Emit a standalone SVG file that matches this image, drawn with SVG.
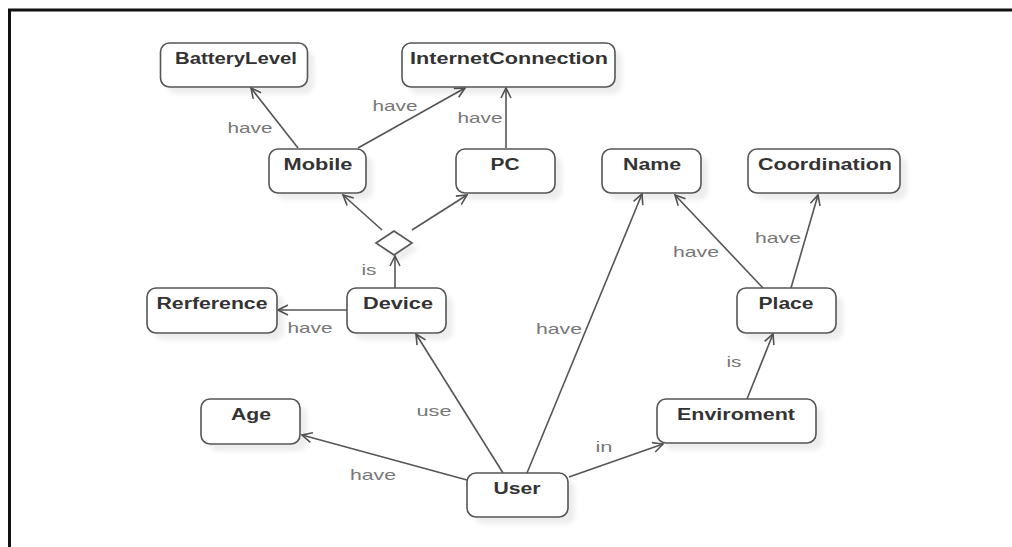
<svg xmlns="http://www.w3.org/2000/svg" width="1012" height="547" viewBox="0 0 1012 547">
  <style>
    .box { fill: #ffffff; stroke: #555555; stroke-width: 1.6; }
    .shadow { fill: #000000; opacity: 0.07; }
    .name { font-family: "Liberation Sans", Arial, sans-serif; font-weight: bold; font-size: 16px; fill: #333333; text-anchor: middle; }
    .edge { fill: none; stroke: #555555; stroke-width: 1.6; }
    .lbl { font-family: "Liberation Sans", Arial, sans-serif; font-size: 15px; fill: #777777; text-anchor: middle; }
  </style>
  <defs>
    <marker id="open" viewBox="0 0 12 12" refX="11" refY="6" markerWidth="12" markerHeight="12" markerUnits="userSpaceOnUse" orient="auto">
      <path d="M1,1 L11,6 L1,11" fill="none" stroke="#555555" stroke-width="1.6"/>
    </marker>
    <filter id="soft" x="-20%" y="-20%" width="140%" height="140%">
      <feGaussianBlur stdDeviation="2.5"/>
    </filter>
  </defs>

  <rect width="1012" height="547" fill="#ffffff"/>
  <!-- frame -->
  <path d="M9.5,547 L9.5,10 L1012,10" fill="none" stroke="#111111" stroke-width="3"/>

  <!-- connectors -->
  <g id="connectors">
    <line class="edge" x1="298" y1="148" x2="251" y2="88" marker-end="url(#open)"/>
    <line class="edge" x1="358" y1="148" x2="465" y2="88" marker-end="url(#open)"/>
    <line class="edge" x1="506" y1="148" x2="506" y2="88" marker-end="url(#open)"/>
    <line class="edge" x1="382" y1="230" x2="343" y2="195" marker-end="url(#open)"/>
    <line class="edge" x1="412" y1="230" x2="467" y2="195" marker-end="url(#open)"/>
    <line class="edge" x1="395" y1="288" x2="395" y2="256" marker-end="url(#open)"/>
    <line class="edge" x1="347" y1="310" x2="278" y2="310" marker-end="url(#open)"/>
    <line class="edge" x1="503" y1="473" x2="416" y2="334" marker-end="url(#open)"/>
    <line class="edge" x1="527" y1="473" x2="642" y2="194" marker-end="url(#open)"/>
    <line class="edge" x1="467" y1="480" x2="302" y2="435" marker-end="url(#open)"/>
    <line class="edge" x1="569" y1="477" x2="663" y2="444" marker-end="url(#open)"/>
    <line class="edge" x1="747" y1="399" x2="773" y2="334" marker-end="url(#open)"/>
    <line class="edge" x1="763" y1="288" x2="675" y2="195" marker-end="url(#open)"/>
    <line class="edge" x1="791" y1="288" x2="818" y2="195" marker-end="url(#open)"/>

    <text class="lbl" x="250" y="133" textLength="45" lengthAdjust="spacingAndGlyphs">have</text>
    <text class="lbl" x="395" y="111" textLength="45" lengthAdjust="spacingAndGlyphs">have</text>
    <text class="lbl" x="480" y="123" textLength="45" lengthAdjust="spacingAndGlyphs">have</text>
    <text class="lbl" x="369" y="275" textLength="15" lengthAdjust="spacingAndGlyphs">is</text>
    <text class="lbl" x="310" y="333" textLength="45" lengthAdjust="spacingAndGlyphs">have</text>
    <text class="lbl" x="434" y="416" textLength="35" lengthAdjust="spacingAndGlyphs">use</text>
    <text class="lbl" x="373" y="480" textLength="46" lengthAdjust="spacingAndGlyphs">have</text>
    <text class="lbl" x="559" y="334" textLength="46" lengthAdjust="spacingAndGlyphs">have</text>
    <text class="lbl" x="604" y="452" textLength="17" lengthAdjust="spacingAndGlyphs">in</text>
    <text class="lbl" x="734" y="367" textLength="15" lengthAdjust="spacingAndGlyphs">is</text>
    <text class="lbl" x="696" y="257" textLength="46" lengthAdjust="spacingAndGlyphs">have</text>
    <text class="lbl" x="778" y="243" textLength="46" lengthAdjust="spacingAndGlyphs">have</text>
  </g>

  <!-- decision diamond -->
  <g id="choice">
    <path class="shadow" filter="url(#soft)" d="M400,249 L418,237 L436,249 L418,261 Z" transform="translate(-18,0)"/>
    <path d="M376,243 L394,231 L412,243 L394,255 Z" fill="#ffffff" stroke="#555555" stroke-width="1.6"/>
  </g>

  <g id="BatteryLevel">
    <rect class="shadow" filter="url(#soft)" x="167" y="50" width="147" height="44" rx="9"/>
    <rect class="box" x="160.5" y="43" width="147" height="44" rx="9"/>
    <text class="name" x="236" y="64" textLength="122" lengthAdjust="spacingAndGlyphs">BatteryLevel</text>
  </g>
  <g id="InternetConnection">
    <rect class="shadow" filter="url(#soft)" x="409" y="50" width="213" height="44" rx="9"/>
    <rect class="box" x="402" y="43" width="213" height="44" rx="9"/>
    <text class="name" x="509" y="64" textLength="198" lengthAdjust="spacingAndGlyphs">InternetConnection</text>
  </g>
  <g id="Mobile">
    <rect class="shadow" filter="url(#soft)" x="276" y="156" width="97" height="44" rx="9"/>
    <rect class="box" x="269" y="149" width="97" height="44" rx="9"/>
    <text class="name" x="318" y="169.5" textLength="69" lengthAdjust="spacingAndGlyphs">Mobile</text>
  </g>
  <g id="PC">
    <rect class="shadow" filter="url(#soft)" x="463" y="156" width="99" height="44" rx="9"/>
    <rect class="box" x="456" y="149" width="99" height="44" rx="9"/>
    <text class="name" x="505" y="169.5" textLength="29" lengthAdjust="spacingAndGlyphs">PC</text>
  </g>
  <g id="Name">
    <rect class="shadow" filter="url(#soft)" x="609" y="156" width="99" height="44" rx="9"/>
    <rect class="box" x="602" y="149" width="99" height="44" rx="9"/>
    <text class="name" x="652" y="169.5" textLength="58" lengthAdjust="spacingAndGlyphs">Name</text>
  </g>
  <g id="Coordination">
    <rect class="shadow" filter="url(#soft)" x="755" y="156" width="152" height="44" rx="9"/>
    <rect class="box" x="748" y="149" width="152" height="44" rx="9"/>
    <text class="name" x="825" y="169.5" textLength="134" lengthAdjust="spacingAndGlyphs">Coordination</text>
  </g>
  <g id="Rerference">
    <rect class="shadow" filter="url(#soft)" x="154" y="295" width="130" height="45" rx="9"/>
    <rect class="box" x="147" y="288" width="130" height="45" rx="9"/>
    <text class="name" x="212" y="308.5" textLength="111" lengthAdjust="spacingAndGlyphs">Rerference</text>
  </g>
  <g id="Device">
    <rect class="shadow" filter="url(#soft)" x="354" y="295" width="99" height="45" rx="9"/>
    <rect class="box" x="347" y="288" width="99" height="45" rx="9"/>
    <text class="name" x="398" y="308.5" textLength="70" lengthAdjust="spacingAndGlyphs">Device</text>
  </g>
  <g id="Place">
    <rect class="shadow" filter="url(#soft)" x="744" y="295" width="99" height="45" rx="9"/>
    <rect class="box" x="737" y="288" width="99" height="45" rx="9"/>
    <text class="name" x="786" y="308.5" textLength="55" lengthAdjust="spacingAndGlyphs">Place</text>
  </g>
  <g id="Age">
    <rect class="shadow" filter="url(#soft)" x="208" y="406" width="99" height="45" rx="9"/>
    <rect class="box" x="201" y="399" width="99" height="45" rx="9"/>
    <text class="name" x="251" y="419.5" textLength="40" lengthAdjust="spacingAndGlyphs">Age</text>
  </g>
  <g id="Enviroment">
    <rect class="shadow" filter="url(#soft)" x="664" y="406" width="159" height="44" rx="9"/>
    <rect class="box" x="657" y="399" width="159" height="44" rx="9"/>
    <text class="name" x="736" y="419.5" textLength="118" lengthAdjust="spacingAndGlyphs">Enviroment</text>
  </g>
  <g id="User">
    <rect class="shadow" filter="url(#soft)" x="474" y="480" width="101" height="44" rx="9"/>
    <rect class="box" x="467" y="473" width="101" height="44" rx="9"/>
    <text class="name" x="517" y="493.5" textLength="47" lengthAdjust="spacingAndGlyphs">User</text>
  </g>
</svg>
